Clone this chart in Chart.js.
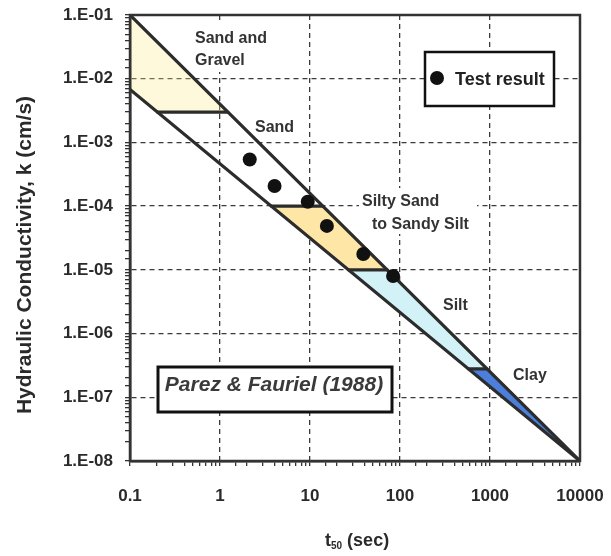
<!DOCTYPE html>
<html>
<head>
<meta charset="utf-8">
<script src="https://cdn.jsdelivr.net/npm/chart.js@4/dist/chart.umd.min.js"></script>
<style>
html,body{margin:0;padding:0;background:#fff;}
#wrap{width:611px;height:556px;position:relative;}
</style>
</head>
<body>
<div id="wrap"><canvas id="c"></canvas></div>
<script>
// ---- Test results ----
const testTimes = [2.14, 4.04, 9.44, 15.4, 39.1, 83.8];          // t50 (sec)
const testK     = [5.4e-4, 2.07e-4, 1.17e-4, 4.9e-5, 1.77e-5, 8.0e-6]; // k (cm/s)

// ---- Chart boundary lines (Parez & Fauriel 1988) ----
const upperLineT = [0.1, 10000];
const upperLineK = [1e-1, 1e-8];
const lowerLineT = [0.1, 10000];
const lowerLineK = [6.8e-3, 1e-8];

// ---- Zone division levels and their end points on the lower / upper lines ----
const divisionK      = [3e-3, 1e-4, 1e-5, 2.8e-7];
const divisionTLower = [0.202, 3.73, 26.8, 574];
const divisionTUpper = [1.22, 13.9, 71.9, 925];

// ---- Labels ----
const zoneLabels  = ['Sand and', 'Gravel', 'Sand', 'Silty Sand', 'to Sandy Silt', 'Silt', 'Clay'];
const xTickLabels = ['0.1', '1', '10', '100', '1000', '10000'];
const yTickLabels = ['1.E-08', '1.E-07', '1.E-06', '1.E-05', '1.E-04', '1.E-03', '1.E-02', '1.E-01'];
const legendLabel = 'Test result';
const sourceLabel = 'Parez & Fauriel (1988)';
const xTitleMain = 't', xTitleSub = '50', xTitleRest = ' (sec)';
const yTitle = 'Hydraulic Conductivity, k (cm/s)';

const FONT = '"Liberation Sans", Arial, Helvetica, sans-serif';
const isDecade = v => Math.abs(Math.log10(v) - Math.round(Math.log10(v))) < 1e-6;
const P = (t, k) => ({x: t, y: k});

const zoneSandGravel = [P(upperLineT[0], upperLineK[0]), P(divisionTUpper[0], divisionK[0]), P(divisionTLower[0], divisionK[0]), P(lowerLineT[0], lowerLineK[0])];
const zoneSiltySand  = [P(divisionTLower[1], divisionK[1]), P(divisionTUpper[1], divisionK[1]), P(divisionTUpper[2], divisionK[2]), P(divisionTLower[2], divisionK[2])];
const zoneSilt       = [P(divisionTLower[2], divisionK[2]), P(divisionTUpper[2], divisionK[2]), P(divisionTUpper[3], divisionK[3]), P(divisionTLower[3], divisionK[3])];
const zoneClay       = [P(divisionTLower[3], divisionK[3]), P(divisionTUpper[3], divisionK[3]), P(upperLineT[1], upperLineK[1])];

const fillDs = (data, color) => ({type: 'line', data: data.concat([data[0]]), fill: 'shape', backgroundColor: color,
  borderWidth: 0, pointRadius: 0, order: 5, tension: 0});
const lineDs = (data) => ({type: 'line', data, fill: false, borderColor: '#2c2c2c', borderWidth: 3.2,
  pointRadius: 0, order: 3, tension: 0, borderCapStyle: 'round'});

const datasets = [
  fillDs(zoneSandGravel, 'rgba(255,236,140,0.30)'),
  fillDs(zoneSiltySand, '#fde6a6'),
  fillDs(zoneSilt, '#d2f2f8'),
  fillDs(zoneClay, '#4b7fdb'),
  lineDs(upperLineT.map((t, i) => P(t, upperLineK[i]))),
  lineDs(lowerLineT.map((t, i) => P(t, lowerLineK[i]))),
  ...divisionK.map((k, i) => lineDs([P(divisionTLower[i], k), P(divisionTUpper[i], k)])),
  {type: 'scatter', label: legendLabel, data: testTimes.map((t, i) => P(t, testK[i])),
   pointRadius: 7, backgroundColor: '#111', borderColor: '#111', borderWidth: 0, order: 1}
];

const gridColor = ctx => (ctx.tick && isDecade(ctx.tick.value)) ? '#3a3a3a' : 'rgba(0,0,0,0)';

const annot = {
  id: 'annot',
  beforeDatasetsDraw(chart) {
    const c = chart.ctx;
    c.save();
    c.fillStyle = '#fff';
    c.fillRect(190, 22, 72, 50);   // behind "Sand and Gravel"
    c.fillRect(359, 188, 118, 46); // behind "Silty Sand to Sandy Silt"
    c.restore();
  },
  afterDatasetsDraw(chart) {
    const c = chart.ctx, a = chart.chartArea;
    c.save();
    // frame
    c.strokeStyle = '#333';
    c.lineWidth = 2.5;
    c.strokeRect(a.left, a.top, a.right - a.left, a.bottom - a.top);

    // zone labels
    c.fillStyle = '#333';
    c.font = 'bold 16px ' + FONT;
    c.textAlign = 'left';
    c.textBaseline = 'alphabetic';
    const pos = [[195, 43], [195, 65], [255, 132], [362, 206], [372, 229], [443, 310], [513, 380]];
    zoneLabels.forEach((s, i) => c.fillText(s, pos[i][0], pos[i][1]));

    // legend box
    c.fillStyle = '#fff';
    c.fillRect(425, 52, 129, 54);
    c.strokeStyle = '#111';
    c.lineWidth = 2.5;
    c.strokeRect(425, 52, 129, 54);
    c.fillStyle = '#111';
    c.beginPath(); c.arc(437, 78, 7, 0, Math.PI * 2); c.fill();
    c.fillStyle = '#222';
    c.font = 'bold 18px ' + FONT;
    c.fillText(legendLabel, 455, 85);

    // source box
    c.fillStyle = '#fff';
    c.fillRect(158, 367, 234, 45);
    c.strokeStyle = '#111';
    c.lineWidth = 3;
    c.strokeRect(158, 367, 234, 45);
    c.fillStyle = '#3a3a3a';
    c.font = 'italic bold 21px ' + FONT;
    c.textAlign = 'center';
    c.fillText(sourceLabel, 274, 391);

    // x axis title with subscript
    c.fillStyle = '#2a2a2a';
    c.textAlign = 'left';
    c.font = 'bold 18px ' + FONT;
    let x = 325;
    c.fillText(xTitleMain, x, 546);
    x += c.measureText(xTitleMain).width;
    c.font = 'bold 10px ' + FONT;
    c.fillText(xTitleSub, x, 549);
    x += c.measureText(xTitleSub).width;
    c.font = 'bold 18px ' + FONT;
    c.fillText(xTitleRest, x, 546);

    // y axis title
    c.translate(31, 255);
    c.rotate(-Math.PI / 2);
    c.textAlign = 'center';
    c.font = 'bold 21px ' + FONT;
    c.fillText(yTitle, 0, 0);
    c.restore();
  }
};

new Chart(document.getElementById('c'), {
  type: 'scatter',
  data: {datasets},
  options: {
    responsive: true,
    maintainAspectRatio: false,
    animation: false,
    events: [],
    layout: {padding: {top: 15, right: 31, bottom: 0, left: 0}},
    plugins: {legend: {display: false}, tooltip: {enabled: false}},
    scales: {
      x: {
        type: 'logarithmic', position: 'bottom', min: 0.1, max: 10000,
        afterFit(s) { s.height = 95; s.paddingLeft = 0; s.paddingRight = 0; },
        ticks: {autoSkip: false, maxRotation: 0, minRotation: 0, padding: 20, color: '#2a2a2a',
          font: {family: FONT, size: 17, weight: 'bold'},
          callback: v => isDecade(v) ? xTickLabels[Math.round(Math.log10(v)) + 1] : ''},
        grid: {color: gridColor, lineWidth: 1.3, tickColor: '#333', tickWidth: 1.3, tickLength: 5, tickBorderDash: []},
        border: {display: true, color: '#333', width: 2.5, dash: [5, 4]}
      },
      y: {
        type: 'logarithmic', position: 'left', min: 1e-8, max: 1e-1,
        afterFit(s) { s.width = 130; s.paddingTop = 0; s.paddingBottom = 0; },
        ticks: {autoSkip: false, padding: 12, color: '#2a2a2a',
          font: {family: FONT, size: 17, weight: 'bold'},
          callback: v => isDecade(v) ? yTickLabels[Math.round(Math.log10(v)) + 8] : ''},
        grid: {color: gridColor, lineWidth: 1.3, tickColor: '#333', tickWidth: 1.3, tickLength: 5, tickBorderDash: []},
        border: {display: true, color: '#333', width: 2.5, dash: [5, 4]}
      }
    }
  },
  plugins: [annot]
});
</script>
</body>
</html>
